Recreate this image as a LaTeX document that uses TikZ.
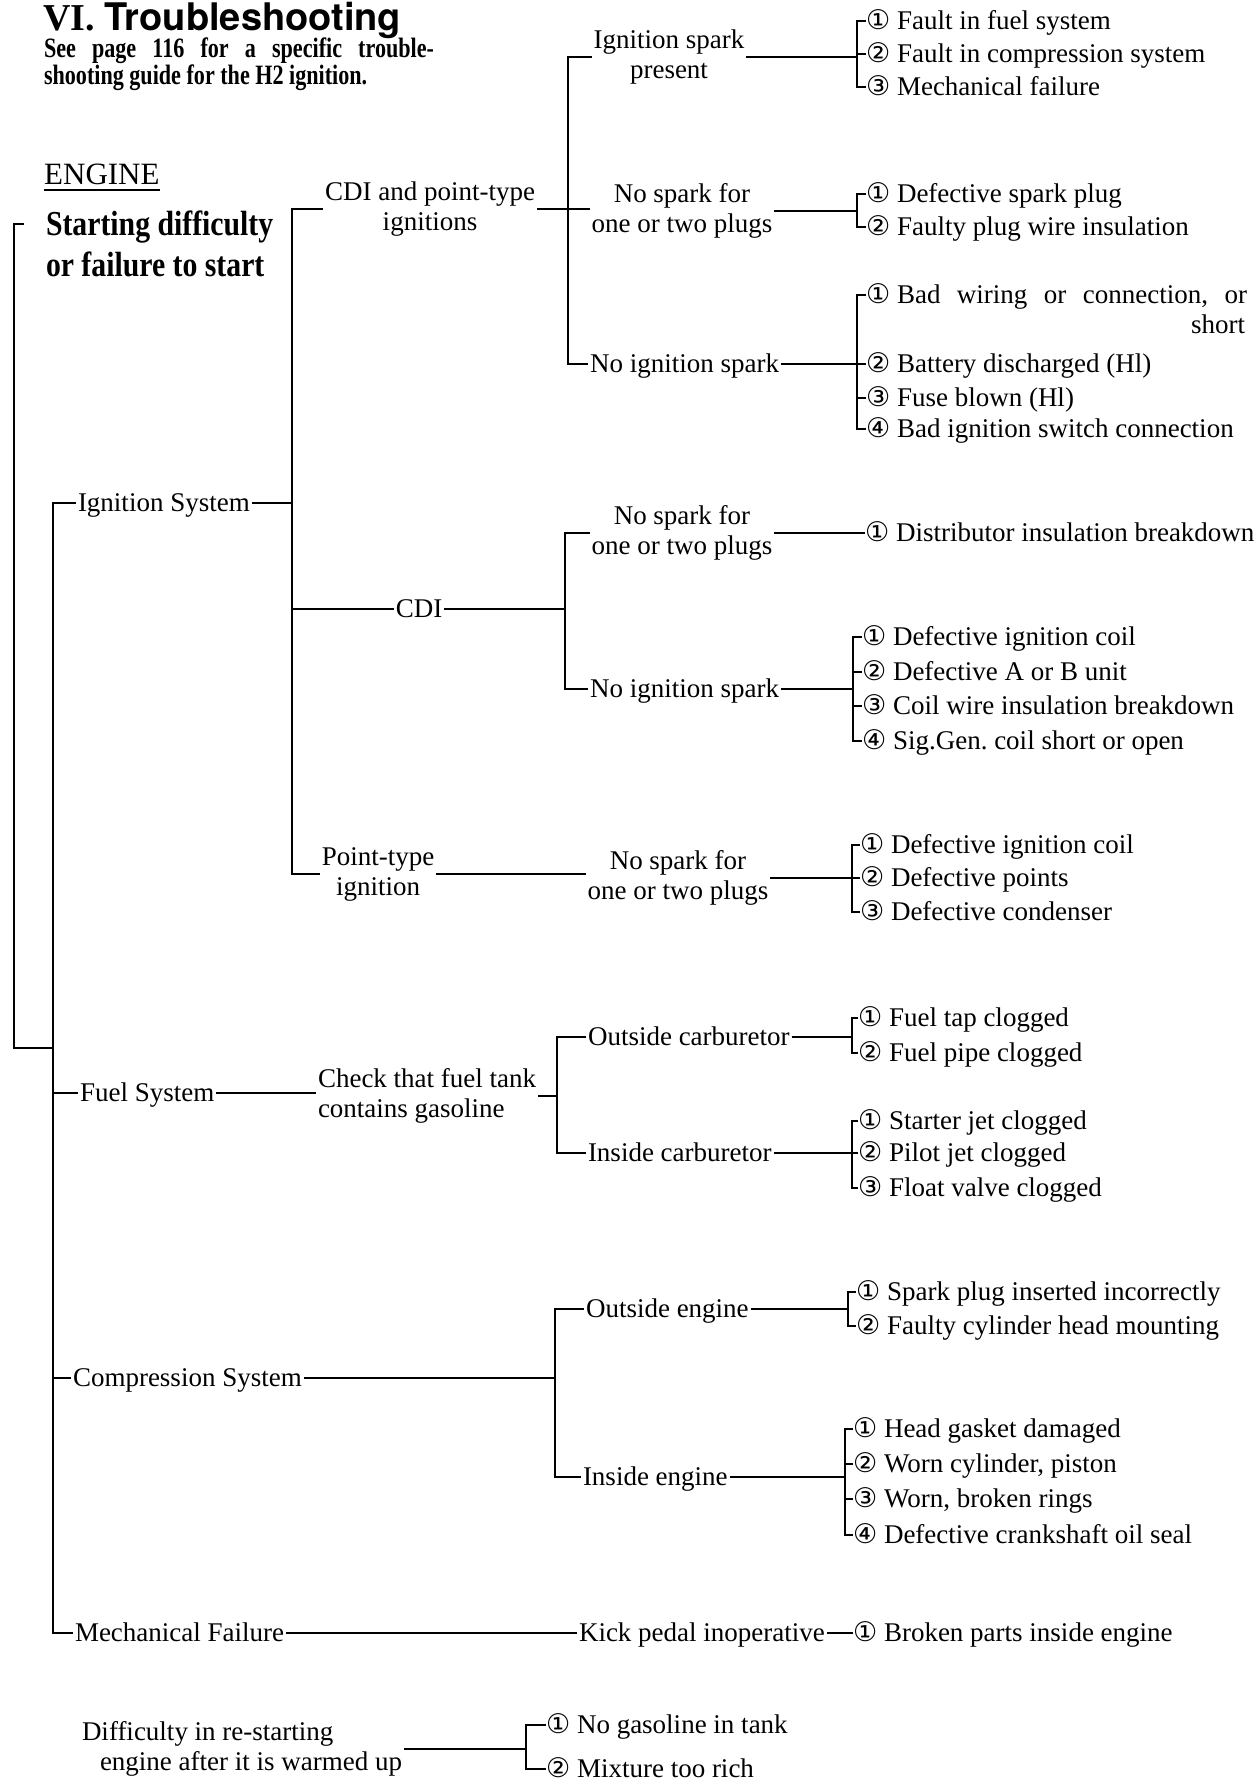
\documentclass[tikz,border=0pt]{standalone}
\usepackage{fontspec}
\setmainfont{Liberation Serif}
\newfontfamily\cnfont{DejaVu Sans}
\newfontfamily\heros{TeX Gyre Heros}
\newfontfamily\condbf[FakeStretch=0.85]{Liberation Serif}
\newfontfamily\hdrbf[FakeStretch=0.79]{Liberation Serif}
\usepackage{tikz}
\frenchspacing

\newcommand\cnum[1]{\makebox[31pt][l]{\cnfont\fontsize{27}{27}\selectfont#1}}

\tikzset{
  lbl/.style={inner sep=0pt, outer sep=2pt, font=\fontsize{27}{30}\selectfont},
  lbl1/.style={lbl, text height=18pt, text depth=0.5pt},
  cause/.style={lbl1, outer sep=0pt, anchor=west},
  link/.style={line width=1.5pt},
}

\begin{document}
\begin{tikzpicture}[x=1pt, y=-1pt]
        \fill[white] (0,0) rectangle (1260,1788);
        \useasboundingbox (0,0) rectangle (1260,1788);

        % heading
        \node[anchor=base west, inner sep=0pt] (ttl) at (43,30) {\fontsize{38}{38}\selectfont\bfseries VI. {\heros Troubleshooting}};
        \node[lbl, anchor=west, align=left, font=\hdrbf\bfseries\fontsize{28}{27}\selectfont] (hdr) at (42,64)
              {\makebox[390pt][s]{See page 116 for a specific trouble-}\\shooting guide for the H2 ignition.};
        \node[anchor=base west, inner sep=0pt, font=\fontsize{31}{31}\selectfont] (eng) at (44,184) {ENGINE};
        \draw [link] ([yshift=-6pt]eng.base west) -- ([yshift=-6pt]eng.base east);   %underline
        \node[lbl, anchor=west, align=left, font=\condbf\bfseries\fontsize{35}{41}\selectfont] (start) at (44,244)
              {Starting difficulty\\or failure to start};

        % systems
        \coordinate (rtop) at (24,224);
        \coordinate (rbot) at (53,1048);
        \coordinate (sysx) at (53,0);
        \node[lbl1, anchor=west] (ign)  at (76,503)   {Ignition System};
        \node[lbl1, anchor=west] (fuel) at (78,1093)  {Fuel System};
        \node[lbl1, anchor=west] (comp) at (71,1378)  {Compression System};
        \node[lbl1, anchor=west] (mech) at (73,1633)  {Mechanical Failure};
        \draw [link] (rtop) -- ++(-10,0) |- (rbot);                                 %root
        \draw [link] (ign.west) -- (ign.west -| sysx) -- (mech.west -| sysx) -- (mech.west);
        \draw [link] (fuel.west) -- (fuel.west -| sysx);
        \draw [link] (comp.west) -- (comp.west -| sysx);

        % ignition system
        \coordinate (ignx) at (292,0);
        \node[lbl, align=center] (cdipt) at (430,209) {CDI and point-type\\ignitions};
        \node[lbl1] (cdi) at (419,609) {CDI};
        \node[lbl, align=center] (ptype) at (378,874) {Point-type\\ignition};
        \draw [link] (cdipt.west) -- (cdipt.west -| ignx) -- (ptype.west -| ignx) -- (ptype.west);
        \draw [link] (ign.east) -- (ign.east -| ignx);
        \draw [link] (cdi.west) -- (cdi.west -| ignx);

        % CDI and point-type
        \coordinate (sparkx) at (568,0);
        \node[lbl, align=center] (isp)  at (669,57)  {Ignition spark\\present};
        \node[lbl, align=center] (nsp1) at (682,211) {No spark for\\one or two plugs};
        \node[lbl1, anchor=west] (noign1) at (588,364) {No ignition spark};
        \draw [link] (isp.west) -- (isp.west -| sparkx) -- (noign1.west -| sparkx) -- (noign1.west);
        \draw [link] (cdipt.east) -- (cdipt.east -| nsp1.west);

        \coordinate (brA) at (857,0);
        \node[cause] (a1) at (866,21) {\cnum{①}Fault in fuel system};
        \node[cause] (a2) at (866,54) {\cnum{②}Fault in compression system};
        \node[cause] (a3) at (866,87) {\cnum{③}Mechanical failure};
        \draw [link] (isp.east) -- (isp.east -| brA);
        \draw [link] (a1.west) -| (brA |- a3.west) -- (a3.west);
        \draw [link] (a2.west) -- (a2.west -| brA);

        \coordinate (brB) at (857,0);
        \node[cause] (b1) at (866,194) {\cnum{①}Defective spark plug};
        \node[cause] (b2) at (866,227) {\cnum{②}Faulty plug wire insulation};
        \draw [link] (nsp1.east) -- (nsp1.east -| brB);
        \draw [link] (b1.west) -| (brB |- b2.west) -- (b2.west);

        \coordinate (brC) at (857,0);
        \node[cause] (c1) at (866,295) {\makebox[381pt][s]{\cnum{①}Bad wiring or connection, or}};
        \node[lbl1, anchor=east] (c1b) at ([yshift=-30pt]c1.east) {short};
        \node[cause] (c2) at (866,364) {\cnum{②}Battery discharged (Hl)};
        \node[cause] (c3) at (866,398) {\cnum{③}Fuse blown (Hl)};
        \node[cause] (c4) at (866,429) {\cnum{④}Bad ignition switch connection};
        \draw [link] (noign1.east) -- (noign1.east -| brC);
        \draw [link] (c1.west) -| (brC |- c4.west) -- (c4.west);
        \draw [link] (c2.west) -- (c2.west -| brC);
        \draw [link] (c3.west) -- (c3.west -| brC);

        % CDI
        \coordinate (cdix) at (565,0);
        \node[lbl, align=center] (nsp2) at (682,533) {No spark for\\one or two plugs};
        \node[lbl1, anchor=west] (noign2) at (588,689) {No ignition spark};
        \draw [link] (nsp2.west) -- (nsp2.west -| cdix) -- (noign2.west -| cdix) -- (noign2.west);
        \draw [link] (cdi.east) -- (cdi.east -| cdix);
        \node[cause] (d1) at (865,533) {\cnum{①}Distributor insulation breakdown};
        \draw [link] (nsp2.east) -- (d1.west);

        \coordinate (brE) at (853,0);
        \node[cause] (e1) at (862,637) {\cnum{①}Defective ignition coil};
        \node[cause] (e2) at (862,672) {\cnum{②}Defective A or B unit};
        \node[cause] (e3) at (862,706) {\cnum{③}Coil wire insulation breakdown};
        \node[cause] (e4) at (862,741) {\cnum{④}Sig.Gen. coil short or open};
        \draw [link] (noign2.east) -- (noign2.east -| brE);
        \draw [link] (e1.west) -| (brE |- e4.west) -- (e4.west);
        \draw [link] (e2.west) -- (e2.west -| brE);
        \draw [link] (e3.west) -- (e3.west -| brE);

        % point-type
        \node[lbl, align=center] (nsp3) at (678,878) {No spark for\\one or two plugs};
        \draw [link] (ptype.east) -- (ptype.east -| nsp3.west);
        \coordinate (brF) at (852,0);
        \node[cause] (f1) at (860,845) {\cnum{①}Defective ignition coil};
        \node[cause] (f2) at (860,878) {\cnum{②}Defective points};
        \node[cause] (f3) at (860,912) {\cnum{③}Defective condenser};
        \draw [link] (nsp3.east) -- (nsp3.east -| brF);
        \draw [link] (f1.west) -| (brF |- f3.west) -- (f3.west);
        \draw [link] (f2.west) -- (f2.west -| brF);

        % fuel system
        \coordinate (carbx) at (557,0);
        \node[lbl, anchor=west, align=left] (chk) at (316,1096) {Check that fuel tank\\contains gasoline};
        \draw [link] (fuel.east) -- (fuel.east -| chk.west);
        \node[lbl1, anchor=west] (oc) at (586,1037) {Outside carburetor};
        \node[lbl1, anchor=west] (ic) at (586,1153) {Inside carburetor};
        \draw [link] (oc.west) -- (oc.west -| carbx) -- (ic.west -| carbx) -- (ic.west);
        \draw [link] (chk.east) -- (chk.east -| carbx);

        \coordinate (brG) at (852,0);
        \node[cause] (g1) at (858,1018) {\cnum{①}Fuel tap clogged};
        \node[cause] (g2) at (858,1053) {\cnum{②}Fuel pipe clogged};
        \draw [link] (oc.east) -- (oc.east -| brG);
        \draw [link] (g1.west) -| (brG |- g2.west) -- (g2.west);

        \coordinate (brH) at (852,0);
        \node[cause] (h1) at (858,1121) {\cnum{①}Starter jet clogged};
        \node[cause] (h2) at (858,1153) {\cnum{②}Pilot jet clogged};
        \node[cause] (h3) at (858,1188) {\cnum{③}Float valve clogged};
        \draw [link] (ic.east) -- (ic.east -| brH);
        \draw [link] (h1.west) -| (brH |- h3.west) -- (h3.west);
        \draw [link] (h2.west) -- (h2.west -| brH);

        % compression system
        \coordinate (engx) at (555,0);
        \node[lbl1, anchor=west] (oe) at (584,1309) {Outside engine};
        \node[lbl1, anchor=west] (ie) at (581,1477) {Inside engine};
        \draw [link] (oe.west) -- (oe.west -| engx) -- (ie.west -| engx) -- (ie.west);
        \draw [link] (comp.east) -- (comp.east -| engx);

        \coordinate (brI) at (848,0);
        \node[cause] (i1) at (856,1292) {\cnum{①}Spark plug inserted incorrectly};
        \node[cause] (i2) at (856,1326) {\cnum{②}Faulty cylinder head mounting};
        \draw [link] (oe.east) -- (oe.east -| brI);
        \draw [link] (i1.west) -| (brI |- i2.west) -- (i2.west);

        \coordinate (brJ) at (845,0);
        \node[cause] (j1) at (853,1429) {\cnum{①}Head gasket damaged};
        \node[cause] (j2) at (853,1464) {\cnum{②}Worn cylinder, piston};
        \node[cause] (j3) at (853,1499) {\cnum{③}Worn, broken rings};
        \node[cause] (j4) at (853,1535) {\cnum{④}Defective crankshaft oil seal};
        \draw [link] (ie.east) -- (ie.east -| brJ);
        \draw [link] (j1.west) -| (brJ |- j4.west) -- (j4.west);
        \draw [link] (j2.west) -- (j2.west -| brJ);
        \draw [link] (j3.west) -- (j3.west -| brJ);

        % mechanical failure
        \node[lbl1, anchor=west] (kick) at (577,1633) {Kick pedal inoperative};
        \node[cause] (k1) at (853,1633) {\cnum{①}Broken parts inside engine};
        \draw [link] (mech.east) -- (kick.west);
        \draw [link] (kick.east) -- (k1.west);

        % re-starting
        \coordinate (brL) at (526,0);
        \node[lbl, anchor=west, align=left] (rst) at (80,1749) {Difficulty in re-starting\\\hspace*{18pt}engine after it is warmed up};
        \node[cause] (l1) at (546,1725) {\cnum{①}No gasoline in tank};
        \node[cause] (l2) at (546,1769) {\cnum{②}Mixture too rich};
        \draw [link] (rst.east) -- (rst.east -| brL);
        \draw [link] (l1.west) -| (brL |- l2.west) -- (l2.west);
\end{tikzpicture}
\end{document}
